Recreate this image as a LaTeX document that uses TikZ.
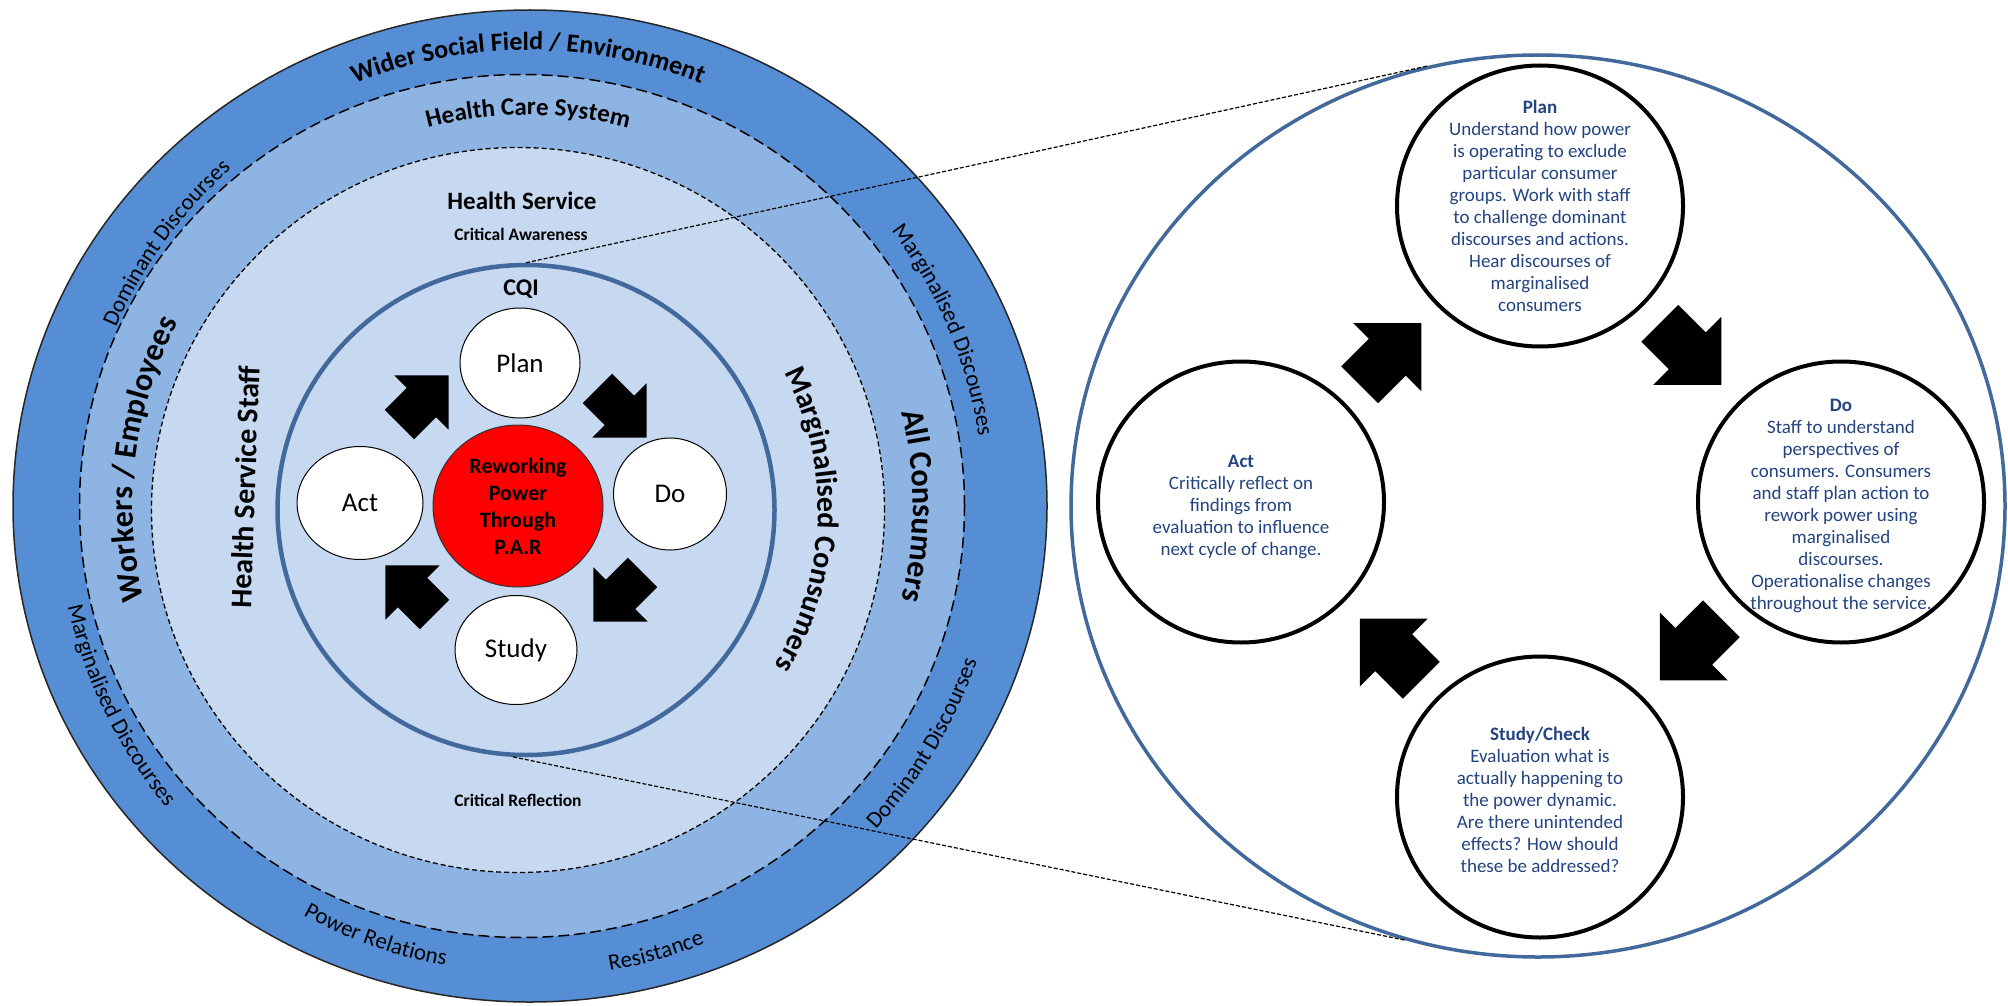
\documentclass[tikz,border=0pt]{standalone}
\usepackage{fontspec}
\setmainfont{Carlito}
\usetikzlibrary{shapes.geometric,decorations.text,calc}

\definecolor{fieldblue}{RGB}{85,142,213}
\definecolor{systemblue}{RGB}{142,180,227}
\definecolor{serviceblue}{RGB}{198,217,241}
\definecolor{cqiblue}{RGB}{65,105,155}
\definecolor{noteblue}{RGB}{35,68,128}

% text bent along a ring: centre, radius, from, to, font, text
\newcommand\ringlabel[6]{%
  \path[decorate,decoration={text along path,text align=center,text={|#5|#6}}]
    (#1) ++(#3:#2) arc[start angle=#3,end angle=#4,radius=#2pt];}

\begin{document}
\begin{tikzpicture}[x=1pt,y=1pt,
  ring/.style={ellipse,inner sep=0pt},
  coarse/.style={draw=black,line width=1.5pt,dash pattern=on 11pt off 5pt},
  fine/.style={draw=black,line width=1.3pt,dash pattern=on 5pt off 3pt},
  stage/.style={ring,draw=black,fill=white,line width=1pt,font=\fontsize{27}{32}\selectfont},
  bighead/.style={font=\bfseries\fontsize{25}{30}\selectfont},
  sidehead/.style={font=\bfseries\fontsize{30}{36}\selectfont},
  smallhead/.style={font=\bfseries\fontsize{17.5}{21}\selectfont},
  phase/.style={ring,draw=black,fill=white,line width=4pt,minimum width=286pt,minimum height=281pt},
  note/.style={align=center,text=noteblue,font=\fontsize{19}{22}\selectfont},
  link/.style={line width=1.2pt,dash pattern=on 4pt off 2pt},
  cyclearrow/.pic={\fill[black] (-43.5,-26) -- (-4.5,-26) -- (-4.5,-48) -- (43.5,0)
    -- (-4.5,48) -- (-4.5,26) -- (-43.5,26) -- cycle;}]
\useasboundingbox (0,0) rectangle (2008,-1006);
\coordinate (ctr) at (528,-506);
\coordinate (mid) at (518,-510);

% the rings
\node[ring,fill=fieldblue,draw=black!85,line width=1.5pt,minimum width=1034pt,minimum height=992pt] (field) at (530,-506) {};
\node[ring,fill=systemblue,coarse,minimum width=885pt,minimum height=863pt] (system) at (522,-506) {};
\node[ring,fill=serviceblue,fine,minimum width=733pt,minimum height=725pt] (service) at (518,-510) {};
\node[ring,draw=cqiblue,line width=4.5pt,minimum width=497pt,minimum height=490pt] (cqi) at (526,-510) {};

% ring texts
\ringlabel{ctr}{456}{140}{40}{\bfseries\fontsize{26}{30}\selectfont}{Wider Social Field / Environment}
\ringlabel{ctr}{391}{135}{45}{\bfseries\fontsize{25}{30}\selectfont}{Health Care System}
\ringlabel{ctr}{449}{174}{114}{\fontsize{23}{27}\selectfont}{Dominant Discourses}
\ringlabel{ctr}{456}{53}{-7}{\fontsize{23}{27}\selectfont}{Marginalised Discourses}
\ringlabel{ctr}{475}{-61}{-1}{\fontsize{23}{27}\selectfont}{Dominant Discourses}
\ringlabel{ctr}{471}{176}{236}{\fontsize{23}{27}\selectfont}{Marginalised Discourses}
\ringlabel{ctr}{467}{225}{276}{\fontsize{23}{27}\selectfont}{Power Relations}
\ringlabel{ctr}{472}{266}{306}{\fontsize{23}{27}\selectfont}{Resistance}
\ringlabel{ctr}{395}{203}{143}{\bfseries\fontsize{32}{38}\selectfont}{Workers / Employees}
\ringlabel{ctr}{385}{30}{-30}{\bfseries\fontsize{32}{38}\selectfont}{All Consumers}
\ringlabel{mid}{300}{38}{-42}{\bfseries\fontsize{30}{36}\selectfont}{Marginalised Consumers}
\node[sidehead,rotate=88] (staff) at (245,-487) {Health Service Staff};
\node[bighead] (hs) at (522,-201) {Health Service};
\node[smallhead] (aware) at (521,-234) {Critical Awareness};
\node[font=\bfseries\fontsize{24}{28}\selectfont] (cqilabel) at (521,-289) {CQI};
\node[smallhead] (reflect) at (518,-800) {Critical Reflection};

% PDSA inside CQI
\node[stage,minimum width=120pt,minimum height=110pt] (cqiplan) at (520,-363) {Plan};
\node[stage,minimum width=126pt,minimum height=113pt] (cqiact) at (360,-503) {Act};
\node[stage,minimum width=113pt,minimum height=112pt] (cqido) at (670,-494) {Do};
\node[stage,minimum width=122pt,minimum height=109pt] (cqistudy) at (516,-650) {Study};
\node[ring,fill=red,draw=black!80,line width=1pt,minimum width=170pt,minimum height=162pt,
  align=center,font=\bfseries\fontsize{22}{27}\selectfont] (par) at (518,-506) {Reworking\\Power\\Through\\P.A.R};
\pic[scale=0.8,rotate=45] at (424,-400) {cyclearrow};
\pic[scale=0.8,rotate=-45] at (622,-413) {cyclearrow};
\pic[scale=0.8,rotate=-135] at (618,-597) {cyclearrow};
\pic[scale=0.8,rotate=135] at (410,-590) {cyclearrow};

% detail of the cycle
\node[ring,draw=cqiblue,fill=white,line width=3.5pt,minimum width=934pt,minimum height=902pt] (detail) at (1538,-506) {};
\node[phase] (plan) at (1540,-206) {};
\node[phase] (do) at (1841,-502) {};
\node[phase] (act) at (1241,-502) {};
\node[phase] (study) at (1540,-797) {};
\node[note] (plantext) at (plan) {\textbf{Plan}\\Understand how power\\is operating to exclude\\particular consumer\\groups. Work with staff\\to challenge dominant\\discourses and actions.\\Hear discourses of\\marginalised\\consumers};
\node[note] (dotext) at ($(do)+(0,-4)$) {\textbf{Do}\\Staff to understand\\perspectives of\\consumers. Consumers\\and staff plan action to\\rework power using\\marginalised\\discourses.\\Operationalise changes\\throughout the service.};
\node[note] (acttext) at ($(act)+(0,-5)$) {\textbf{Act}\\Critically reflect on\\findings from\\evaluation to influence\\next cycle of change.};
\node[note] (studytext) at ($(study)+(0,-3)$) {\textbf{Study/Check}\\Evaluation what is\\actually happening to\\the power dynamic.\\Are there unintended\\effects? How should\\these be addressed?};
\pic[rotate=45] at ($(act)!0.5!(plan)$) {cyclearrow};
\pic[rotate=-45] at ($(plan)!0.5!(do)$) {cyclearrow};
\pic[rotate=-135] at ($(do)!0.5!(study)$) {cyclearrow};
\pic[rotate=135] at ($(study)!0.5!(act)$) {cyclearrow};

% zoom lines
\draw[link] (cqi.north) -- (detail.104);
\draw[link] (cqi.267) -- (detail.253);
\end{tikzpicture}
\end{document}
